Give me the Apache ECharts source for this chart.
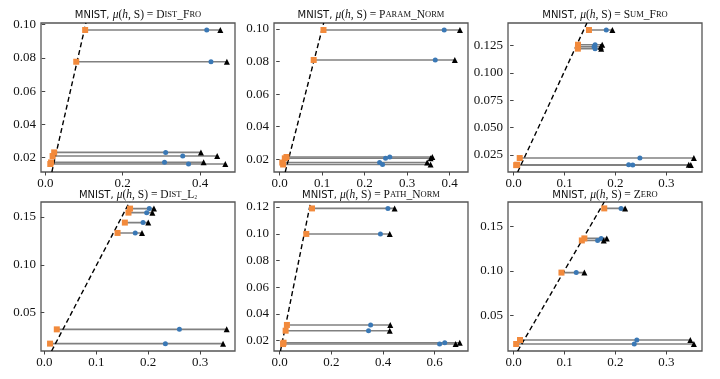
<!DOCTYPE html>
<html>
<head>
<meta charset="utf-8">
<script src="https://cdn.jsdelivr.net/npm/echarts@6/dist/echarts.min.js"></script>
<style>
html,body{margin:0;padding:0;background:#fff;}
#c{width:720px;height:379px;}
</style>
</head>
<body>
<div id="c"></div>
<script>
// ---- data ----
const distFroY        = [0.0968, 0.0777, 0.0232, 0.0210, 0.0172, 0.0162];
const distFroSquare   = [0.103, 0.080, 0.023, 0.019, 0.015, 0.013];
const distFroDot      = [0.417, 0.428, 0.311, 0.355, 0.308, 0.370];
const distFroTriangle = [0.452, 0.469, 0.402, 0.444, 0.409, 0.465];
const distFroDash     = [[0.017, 0.0114], [0.105, 0.101]];

const paramNormY        = [0.0994, 0.0810, 0.0214, 0.0206, 0.0180, 0.0168];
const paramNormSquare   = [0.103, 0.080, 0.016, 0.012, 0.006, 0.008];
const paramNormDot      = [0.387, 0.366, 0.259, 0.249, 0.235, 0.242];
const paramNormTriangle = [0.424, 0.412, 0.359, 0.355, 0.347, 0.355];
const paramNormDash     = [[0.013, 0.0122], [0.1035, 0.1037]];

const sumFroY        = [0.1393, 0.1258, 0.1240, 0.1222, 0.0220, 0.0159, 0.0155];
const sumFroSquare   = [0.148, 0.1265, 0.1265, 0.1262, 0.012, 0.007, 0.005];
const sumFroDot      = [0.182, 0.160, 0.158, 0.160, 0.248, 0.226, 0.234];
const sumFroTriangle = [0.194, 0.174, 0.171, 0.172, 0.354, 0.344, 0.348];
const sumFroDash     = [[0.008, 0.0092], [0.144, 0.1457]];

const distL2Y        = [0.1587, 0.1545, 0.1441, 0.1333, 0.0326, 0.0177];
const distL2Square   = [0.165, 0.162, 0.155, 0.141, 0.024, 0.011];
const distL2Dot      = [0.202, 0.197, 0.190, 0.175, 0.260, 0.233];
const distL2Triangle = [0.211, 0.208, 0.200, 0.188, 0.351, 0.344];
const distL2Dash     = [[0.014, 0.010], [0.164, 0.1656]];

const pathNormY        = [0.1190, 0.0999, 0.0318, 0.0275, 0.0185, 0.0175];
const pathNormSquare   = [0.125, 0.103, 0.028, 0.023, 0.015, 0.013];
const pathNormDot      = [0.419, 0.390, 0.352, 0.344, 0.639, 0.619];
const pathNormTriangle = [0.445, 0.426, 0.428, 0.426, 0.697, 0.681];
const pathNormDash     = [[0.003, 0.0123], [0.120, 0.1238]];

const zeroY        = [0.1703, 0.1365, 0.1342, 0.0980, 0.0221, 0.0176];
const zeroSquare   = [0.178, 0.139, 0.134, 0.094, 0.0126, 0.005];
const zeroDot      = [0.211, 0.172, 0.165, 0.123, 0.242, 0.237];
const zeroTriangle = [0.219, 0.183, 0.177, 0.139, 0.347, 0.354];
const zeroDash     = [[0.008, 0.0097], [0.178, 0.1775]];

// tick labels
const xTicksA = [0.0, 0.2, 0.4];
const xTicksB = [0.0, 0.1, 0.2, 0.3, 0.4];
const xTicksC = [0.0, 0.1, 0.2, 0.3];
const xTicksD = [0.0, 0.2, 0.4, 0.6];
const yTicksA = [0.02, 0.04, 0.06, 0.08, 0.10];
const yTicksC = [0.025, 0.050, 0.075, 0.100, 0.125];
const yTicksD = [0.05, 0.10, 0.15];
const yTicksE = [0.02, 0.04, 0.06, 0.08, 0.10, 0.12];

// titles: [first letters / rest] in small caps
const titleNames = [
  [['D','IST'],['_'],['F','RO']],
  [['P','ARAM'],['_'],['N','ORM']],
  [['S','UM'],['_'],['F','RO']],
  [['D','IST'],['_'],['L','₂']],
  [['P','ATH'],['_'],['N','ORM']],
  [['Z','ERO']]
];

// ---- layout ----
const colLeft = [41, 274, 508];
const rowTop = [23, 202];
const W = 194, H = 149;

const panels = [
  {y: distFroY, sq: distFroSquare, dot: distFroDot, tri: distFroTriangle, dash: distFroDash,
   xr: [-0.011, 0.49], yr: [0.0114, 0.101], xt: xTicksA, yt: yTicksA, xd: 1, yd: 2},
  {y: paramNormY, sq: paramNormSquare, dot: paramNormDot, tri: paramNormTriangle, dash: paramNormDash,
   xr: [-0.0134, 0.443], yr: [0.0122, 0.1037], xt: xTicksB, yt: yTicksA, xd: 1, yd: 2},
  {y: sumFroY, sq: sumFroSquare, dot: sumFroDot, tri: sumFroTriangle, dash: sumFroDash,
   xr: [-0.011, 0.370], yr: [0.0092, 0.1457], xt: xTicksC, yt: yTicksC, xd: 1, yd: 3},
  {y: distL2Y, sq: distL2Square, dot: distL2Dot, tri: distL2Triangle, dash: distL2Dash,
   xr: [-0.0064, 0.367], yr: [0.010, 0.1656], xt: xTicksC, yt: yTicksD, xd: 1, yd: 2},
  {y: pathNormY, sq: pathNormSquare, dot: pathNormDot, tri: pathNormTriangle, dash: pathNormDash,
   xr: [-0.022, 0.729], yr: [0.0123, 0.1238], xt: xTicksD, yt: yTicksE, xd: 1, yd: 2},
  {y: zeroY, sq: zeroSquare, dot: zeroDot, tri: zeroTriangle, dash: zeroDash,
   xr: [-0.011, 0.370], yr: [0.0097, 0.1775], xt: xTicksC, yt: yTicksD, xd: 1, yd: 2}
];

const grids = [], xAxes = [], yAxes = [], series = [], titles = [];
const labelFont = {fontFamily: 'Liberation Serif', fontSize: 13, color: '#111'};

panels.forEach((p, i) => {
  const col = i % 3, row = Math.floor(i / 3);
  grids.push({left: colLeft[col], top: rowTop[row], width: W, height: H,
    show: true, borderColor: '#555', borderWidth: 1.3, backgroundColor: 'transparent'});
  xAxes.push({type: 'value', gridIndex: i, min: p.xr[0], max: p.xr[1],
    axisLine: {show: false}, splitLine: {show: false},
    axisTick: {show: true, length: 3.5, lineStyle: {color: '#444'}, customValues: p.xt},
    axisLabel: Object.assign({margin: 5, customValues: p.xt,
      formatter: v => v.toFixed(p.xd)}, labelFont)});
  yAxes.push({type: 'value', gridIndex: i, min: p.yr[0], max: p.yr[1],
    axisLine: {show: false}, splitLine: {show: false},
    axisTick: {show: true, length: 3.5, lineStyle: {color: '#444'}, customValues: p.yt},
    axisLabel: Object.assign({margin: 5, customValues: p.yt,
      formatter: v => v.toFixed(p.yd)}, labelFont)});

  // grey connector lines
  p.y.forEach((yv, k) => {
    series.push({type: 'line', xAxisIndex: i, yAxisIndex: i, silent: true, symbol: 'none',
      data: [[p.sq[k], yv], [p.tri[k], yv]],
      lineStyle: {color: '#808080', width: 1.6}, z: 2});
  });
  // dashed reference line
  series.push({type: 'line', xAxisIndex: i, yAxisIndex: i, silent: true, symbol: 'none',
    data: p.dash, lineStyle: {color: '#000', width: 1.4, type: [5, 3]}, z: 3});
  // blue dots
  series.push({type: 'scatter', xAxisIndex: i, yAxisIndex: i, symbol: 'circle', symbolSize: 5,
    data: p.y.map((yv, k) => [p.dot[k], yv]), itemStyle: {color: '#3a78b5', opacity: 1}, z: 4});
  // black triangles
  series.push({type: 'scatter', xAxisIndex: i, yAxisIndex: i, symbol: 'triangle', symbolSize: 6,
    data: p.y.map((yv, k) => [p.tri[k], yv]), itemStyle: {color: '#000', opacity: 1}, z: 4});
  // orange squares
  series.push({type: 'scatter', xAxisIndex: i, yAxisIndex: i, symbol: 'rect', symbolSize: 6,
    data: p.y.map((yv, k) => [p.sq[k], yv]), itemStyle: {color: '#f28a3c', opacity: 1}, z: 5});

  // title
  let txt = '{s|MNIST, }{mi|μ}{r|(}{mi|h}{r|, }{bb|S}{r|) = }';
  titleNames[i].forEach(part => {
    if (part.length === 1) txt += '{r|' + part[0] + '}';
    else txt += '{b|' + part[0] + '}{c|' + part[1] + '}';
  });
  const base = {fontWeight: 'normal', color: '#111'};
  titles.push({text: txt, left: colLeft[col] + W / 2, top: row === 0 ? 9 : 189, textAlign: 'center',
    padding: 0,
    textStyle: {fontWeight: 'normal', rich: {
      s: Object.assign({fontFamily: 'DejaVu Sans', fontSize: 10}, base),
      mi: Object.assign({fontFamily: 'Liberation Serif', fontStyle: 'italic', fontSize: 11.5}, base),
      r: Object.assign({fontFamily: 'Liberation Serif', fontSize: 11.5}, base),
      bb: Object.assign({fontFamily: 'Liberation Serif', fontSize: 11.5}, base),
      b: Object.assign({fontFamily: 'Liberation Serif', fontSize: 11.5}, base),
      c: Object.assign({fontFamily: 'Liberation Serif', fontSize: 8.5}, base)
    }}});
});

const chart = echarts.init(document.getElementById('c'), null, {renderer: 'canvas'});
chart.setOption({
  animation: false,
  backgroundColor: '#fff',
  title: titles,
  grid: grids,
  xAxis: xAxes,
  yAxis: yAxes,
  series: series
});
</script>
</body>
</html>
